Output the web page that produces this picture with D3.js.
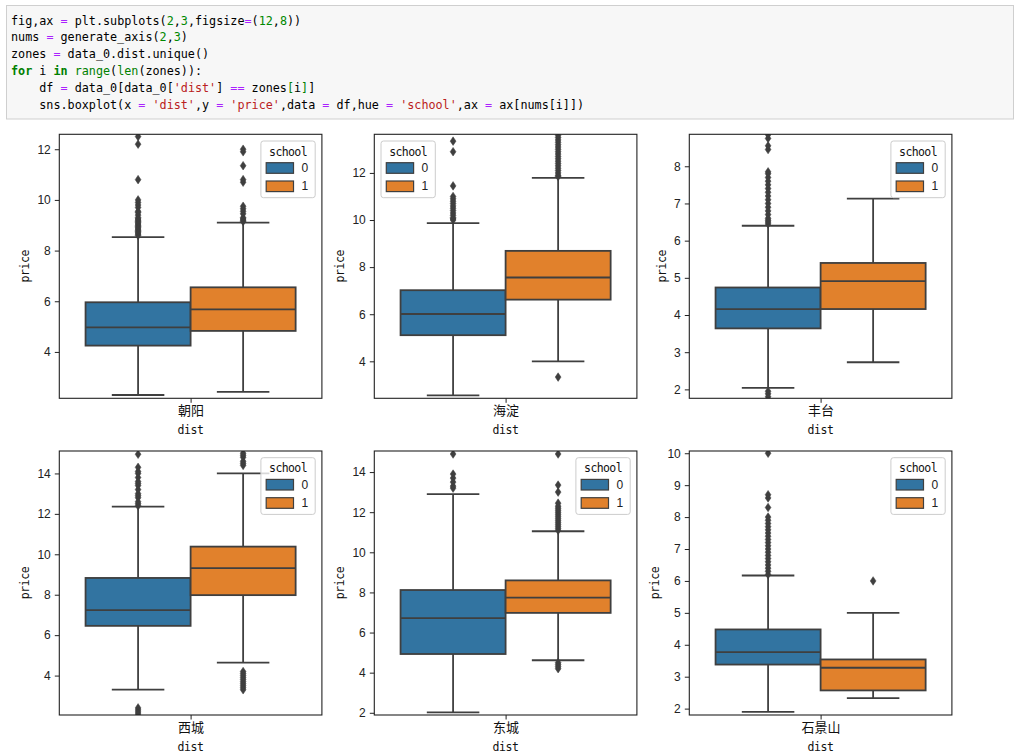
<!DOCTYPE html>
<html><head><meta charset="utf-8">
<script src="https://cdn.jsdelivr.net/npm/d3@7"></script>
<style>body{margin:0;background:#fff}svg{display:block}</style>
</head><body><svg id="c" width="1023" height="756"></svg>
<script>
// ---------- data ----------
const zones = ["朝阳", "海淀", "丰台", "西城", "东城", "石景山"];
const schools = ["0", "1"];
const yDomains = [[2.17, 12.59], [2.43, 13.64], [1.76, 8.86], [2.05, 15.11], [1.89, 15.05], [1.8, 10.07]];
const yTicks = [[4, 6, 8, 10, 12], [4, 6, 8, 10, 12], [2, 3, 4, 5, 6, 7, 8], [4, 6, 8, 10, 12, 14], [2, 4, 6, 8, 10, 12, 14], [2, 3, 4, 5, 6, 7, 8, 9, 10]];
// [whiskerLow, q1, median, q3, whiskerHigh]
const stats0 = [[2.30, 4.25, 4.97, 5.96, 8.53], [2.55, 5.11, 6.01, 7.02, 9.87], [2.04, 3.64, 4.16, 4.74, 6.40], [3.31, 6.46, 7.24, 8.83, 12.36], [2.02, 4.93, 6.72, 8.12, 12.90], [1.90, 3.38, 3.77, 4.48, 6.17]];
const stats1 = [[2.42, 4.83, 5.68, 6.55, 9.10], [4.00, 6.62, 7.56, 8.69, 11.79], [2.73, 4.16, 4.91, 5.40, 7.13], [4.64, 7.98, 9.32, 10.38, 14.00], [4.62, 6.98, 7.74, 8.60, 11.05], [2.33, 2.57, 3.28, 3.54, 5.00]];
const fliers0 = [
  [8.6, 8.65, 8.7, 8.75, 8.8, 8.85, 8.9, 8.95, 9.0, 9.05, 9.1, 9.15, 9.2, 9.25, 9.3, 9.4, 9.5, 9.55, 9.7, 9.8, 9.9, 10.0, 10.8, 12.2, 12.5],
  [10.0, 10.05, 10.1, 10.2, 10.3, 10.4, 10.5, 10.6, 10.7, 10.8, 10.9, 11.0, 11.45, 12.9, 13.35],
  [6.45, 6.5, 6.55, 6.6, 6.7, 6.8, 6.9, 7.0, 7.1, 7.2, 7.3, 7.4, 7.5, 7.6, 7.7, 7.8, 7.85, 8.45, 8.55, 8.75, 8.85, 1.95, 1.88, 1.8],
  [12.4, 12.5, 12.6, 12.8, 12.9, 13.0, 13.2, 13.4, 13.5, 13.6, 13.8, 14.0, 14.1, 14.3, 14.95, 2.4, 2.3, 2.2, 2.1],
  [13.2, 13.3, 13.5, 13.7, 13.9, 14.9],
  [6.2, 6.3, 6.4, 6.5, 6.6, 6.7, 6.8, 6.9, 7.0, 7.1, 7.2, 7.3, 7.4, 7.5, 7.6, 7.7, 7.8, 7.9, 8.0, 8.3, 8.6, 8.7, 10.0]
];
const fliers1 = [
  [9.15, 9.2, 9.25, 9.3, 9.45, 9.55, 9.65, 9.75, 10.7, 10.8, 11.35, 11.9, 12.0],
  [11.85, 11.9, 12.0, 12.1, 12.2, 12.3, 12.4, 12.5, 12.6, 12.7, 12.8, 12.9, 13.0, 13.1, 13.2, 13.3, 13.4, 13.5, 13.6, 3.33],
  [],
  [14.4, 14.5, 14.6, 14.8, 14.9, 15.0, 4.2, 4.1, 4.0, 3.9, 3.8, 3.7, 3.6, 3.5, 3.4, 3.3],
  [11.1, 11.2, 11.3, 11.4, 11.5, 11.6, 11.7, 11.8, 11.9, 12.0, 12.1, 12.2, 12.3, 12.45, 13.0, 13.35, 14.9, 4.5, 4.4, 4.3, 4.2],
  [6.0]
];
const legendSide = ["right", "left", "right", "right", "right", "right"];
const codeLines = [
  [["fig,ax ", "n"], ["=", "o"], [" plt.subplots(", "n"], ["2", "m"], [",", "n"], ["3", "m"], [",figsize", "n"], ["=", "o"], ["(", "n"], ["12", "m"], [",", "n"], ["8", "m"], ["))", "n"]],
  [["nums ", "n"], ["=", "o"], [" generate_axis(", "n"], ["2", "m"], [",", "n"], ["3", "m"], [")", "n"]],
  [["zones ", "n"], ["=", "o"], [" data_0.dist.unique()", "n"]],
  [["for", "k"], [" i ", "n"], ["in", "k"], [" ", "n"], ["range", "b"], ["(", "n"], ["len", "b"], ["(zones)):", "n"]],
  [["    df ", "n"], ["=", "o"], [" data_0[data_0[", "n"], ["'dist'", "s"], ["] ", "n"], ["==", "o"], [" zones", "n"], ["[", "b"], ["i", "n"], ["]", "b"], ["]", "n"]],
  [["    sns.boxplot(x ", "n"], ["=", "o"], [" ", "n"], ["'dist'", "s"], [",y ", "n"], ["=", "o"], [" ", "n"], ["'price'", "s"], [",data ", "n"], ["=", "o"], [" df,hue ", "n"], ["=", "o"], [" ", "n"], ["'school'", "s"], [",ax ", "n"], ["=", "o"], [" ax[nums[i]])", "n"]]
];

// ---------- style / layout ----------
const colors = ["#3274a1", "#e1812c"];
const gray = "#3f3f3f";
const tokColor = {n: "#000", o: "#aa22ff", m: "#008800", k: "#008000", b: "#008000", s: "#ba2121"};
const axLefts = [59.3, 374.3, 689.3];
const axTops = [134.3, 451];
const W = 262.6, H = 264;
const labelFont = "'DejaVu Sans Mono', monospace";
const svg = d3.select("#c");

// code cell
svg.append("rect").attr("x", 6.5).attr("y", 5.5).attr("width", 1007).attr("height", 113.5)
  .attr("fill", "#f7f7f7").attr("stroke", "#cfcfcf").attr("stroke-width", 1);
codeLines.forEach((line, i) => {
  const t = svg.append("text").attr("x", 11).attr("y", 24.5 + i * 16.9)
    .attr("font-family", "'DejaVu Sans Mono', monospace").attr("font-size", 11.75)
    .style("white-space", "pre");
  line.forEach(([txt, c]) => {
    t.append("tspan").text(txt).attr("fill", tokColor[c])
      .attr("font-weight", c === "k" ? "bold" : "normal");
  });
});

const diamond = "M0,-4.3L2.9,0L0,4.3L-2.9,0Z";

zones.forEach((zone, i) => {
  const left = axLefts[i % 3], top = axTops[Math.floor(i / 3)];
  const g = svg.append("g").attr("transform", `translate(${left},${top})`);
  const y = d3.scaleLinear().domain(yDomains[i]).range([H, 0]);
  const xCat = d3.scaleBand().domain([zone]).range([0, W]);
  const xHue = d3.scaleBand().domain(schools).range([xCat(zone) + 0.1 * W, xCat(zone) + 0.9 * W]);
  const bw = xHue.bandwidth();

  const cid = "clip" + i;
  g.append("clipPath").attr("id", cid).append("rect").attr("width", W).attr("height", H);
  const plot = g.append("g").attr("clip-path", `url(#${cid})`);

  schools.forEach((s, j) => {
    const st = (j === 0 ? stats0 : stats1)[i];
    const fl = (j === 0 ? fliers0 : fliers1)[i];
    const x0 = xHue(s), cx = x0 + bw / 2;
    const bg = plot.append("g").attr("stroke", gray).attr("stroke-width", 1.8);
    bg.append("line").attr("x1", cx).attr("x2", cx).attr("y1", y(st[3])).attr("y2", y(st[4]));
    bg.append("line").attr("x1", cx).attr("x2", cx).attr("y1", y(st[1])).attr("y2", y(st[0]));
    [st[0], st[4]].forEach(v => bg.append("line").attr("x1", cx - bw / 4).attr("x2", cx + bw / 4)
      .attr("y1", y(v)).attr("y2", y(v)));
    bg.append("rect").attr("x", x0).attr("width", bw).attr("y", y(st[3]))
      .attr("height", y(st[1]) - y(st[3])).attr("fill", colors[j]);
    bg.append("line").attr("x1", x0).attr("x2", x0 + bw).attr("y1", y(st[2])).attr("y2", y(st[2]));
    plot.append("g").selectAll("path").data(fl).join("path")
      .attr("d", diamond).attr("transform", d => `translate(${cx},${y(d)})`)
      .attr("fill", gray).attr("stroke", gray).attr("stroke-width", 0.5);
  });

  const yAx = g.append("g").call(d3.axisLeft(y).tickValues(yTicks[i]).tickFormat(d3.format("d")).tickSize(4.5).tickPadding(4));
  const xAx = g.append("g").attr("transform", `translate(0,${H})`)
    .call(d3.axisBottom(d3.scalePoint().domain([zone]).range([0, W]).padding(0.5)).tickSize(4.5).tickPadding(3));
  [yAx, xAx].forEach(a => {
    a.select(".domain").remove();
    a.selectAll(".tick line").attr("stroke", "#222").attr("stroke-width", 1);
  });
  yAx.selectAll(".tick text").attr("font-family", "'Liberation Sans', Arial, sans-serif").attr("font-size", 12).attr("fill", "#222");
  xAx.selectAll(".tick text").attr("font-family", "'Noto Sans CJK SC', sans-serif").attr("font-size", 13).attr("fill", "#111");

  g.append("rect").attr("width", W).attr("height", H).attr("fill", "none").attr("stroke", "#222").attr("stroke-width", 1.1);

  const tw = yAx.node().getBBox().x;
  g.append("text").attr("transform", `translate(${tw - 8},${H / 2}) rotate(-90)`)
    .attr("text-anchor", "middle").attr("font-family", labelFont).attr("font-size", 11.5)
    .attr("letter-spacing", -0.4).attr("fill", "#111").text("price");
  g.append("text").attr("x", W / 2).attr("y", H + 35.5).attr("text-anchor", "middle")
    .attr("font-family", labelFont).attr("font-size", 11.5).attr("letter-spacing", -0.4).attr("fill", "#111").text("dist");

  const lw = 54.3, lh = 56.7;
  const lx = legendSide[i] === "right" ? W - 6.7 - lw : 6.7;
  const lg = g.append("g").attr("transform", `translate(${lx},6.7)`);
  lg.append("rect").attr("width", lw).attr("height", lh).attr("rx", 2.5)
    .attr("fill", "#fff").attr("fill-opacity", 0.8).attr("stroke", "#cccccc").attr("stroke-width", 1);
  lg.append("text").attr("x", lw / 2).attr("y", 14.5).attr("text-anchor", "middle")
    .attr("font-family", labelFont).attr("font-size", 11.5).attr("letter-spacing", -0.6).attr("fill", "#111").text("school");
  schools.forEach((s, j) => {
    lg.append("rect").attr("x", 5.3).attr("y", 21.7 + j * 18.3).attr("width", 27.3).attr("height", 10.6)
      .attr("fill", colors[j]).attr("stroke", gray).attr("stroke-width", 1.2);
    lg.append("text").attr("x", 40.5).attr("y", 31 + j * 18.3)
      .attr("font-family", "'Liberation Sans', Arial, sans-serif").attr("font-size", 12).attr("fill", "#222").text(s);
  });
});
</script></body></html>
